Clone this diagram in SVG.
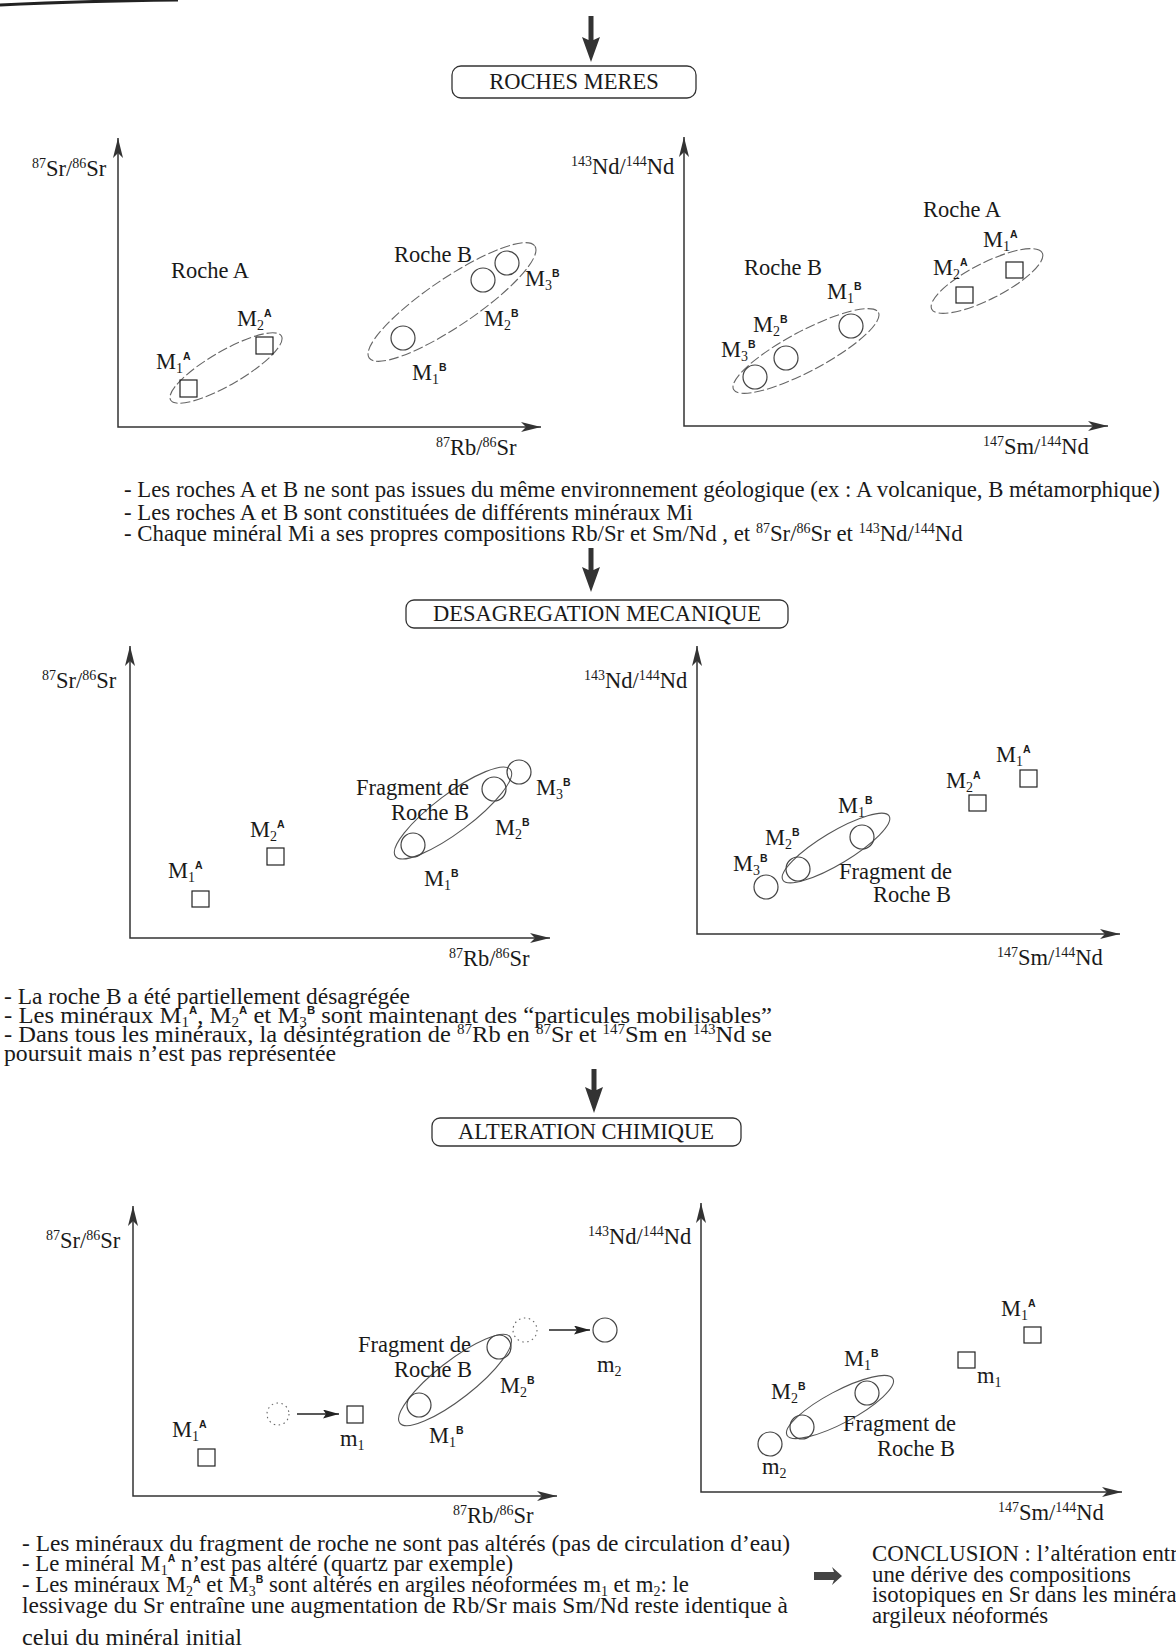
<svg xmlns="http://www.w3.org/2000/svg" width="1176" height="1648" viewBox="0 0 1176 1648">
<style>
.t{font-family:"Liberation Serif","Times New Roman",serif;font-size:22.5px;fill:#1a1a1a}
.b{font-family:"Liberation Serif","Times New Roman",serif;font-size:22.8px;fill:#1a1a1a}
.sm{font-size:14px}
.sA{font-family:"Liberation Sans",Arial,sans-serif;font-weight:bold;font-size:10.5px}
.ax{fill:none;stroke:#333;stroke-width:1.5}
.el{fill:none;stroke:#555;stroke-width:1.1}
.eld{fill:none;stroke:#666;stroke-width:1.1;stroke-dasharray:10 3}
.ci{fill:none;stroke:#444;stroke-width:1.2}
.cid{fill:none;stroke:#666;stroke-width:1.1;stroke-dasharray:1.5 3.5}
.sq{fill:none;stroke:#222;stroke-width:1.2}
.box{fill:#fff;stroke:#333;stroke-width:1.3}
.fa{fill:#333}
.ln{stroke:#222;stroke-width:1.5;fill:none}
</style>
<defs>
<marker id="ah" viewBox="0 0 20 10" refX="20" refY="5" markerWidth="20" markerHeight="10" markerUnits="userSpaceOnUse" orient="auto-start-reverse"><path d="M0,0 L20,5 L0,10 L5,5 z" fill="#333"/></marker>
<marker id="sa" viewBox="0 0 16 9" refX="16" refY="4.5" markerWidth="16" markerHeight="9" markerUnits="userSpaceOnUse" orient="auto"><path d="M0,0 L16,4.5 L0,9 L3,4.5 z" fill="#222"/></marker>
</defs>
<rect width="1176" height="1648" fill="#fff"/>
<path d="M0,5 Q80,1 178,0" stroke="#222" stroke-width="3" fill="none"/>

<g id="flow">
<polygon class="fa" points="588.5,16 593.5,16 593.5,40 600,37 591,62 582,37 588.5,40"/>
<polygon class="fa" points="588.5,548 593.5,548 593.5,570 600,567 591,592 582,567 588.5,570"/>
<polygon class="fa" points="591.5,1069 596.5,1069 596.5,1090 603,1087 594,1113 585,1087 591.5,1090"/>
<polygon fill="#444" points="814,1572 834,1572 832,1567 842,1576 832,1585 834,1580 814,1580"/>
</g>

<g id="step1">
<rect class="box" x="452" y="66" width="244" height="32" rx="9"/>
<text class="t" x="574" y="89" text-anchor="middle">ROCHES MERES</text>
</g>
<g id="step2">
<rect class="box" x="406" y="600" width="382" height="28" rx="8"/>
<text class="t" x="597" y="621" text-anchor="middle">DESAGREGATION MECANIQUE</text>
</g>
<g id="step3">
<rect class="box" x="432" y="1118" width="309" height="28" rx="8"/>
<text class="t" x="586" y="1139" text-anchor="middle">ALTERATION CHIMIQUE</text>
</g>

<!-- Plot 1 left -->
<g id="plot1-sr">
<path class="ax" d="M118,138 L118,427 L541,427" marker-start="url(#ah)" marker-end="url(#ah)"/>
<text class="t" x="32" y="176"><tspan class="sm" dy="-8">87</tspan><tspan dy="8">Sr/</tspan><tspan class="sm" dy="-8">86</tspan><tspan dy="8">Sr</tspan></text>
<text class="t" x="436" y="455"><tspan class="sm" dy="-8">87</tspan><tspan dy="8">Rb/</tspan><tspan class="sm" dy="-8">86</tspan><tspan dy="8">Sr</tspan></text>
<text class="t" x="171" y="278">Roche A</text>
<text class="t" x="394" y="262">Roche B</text>
<ellipse class="eld" cx="226" cy="368" rx="64" ry="17" transform="rotate(-30 226 368)"/>
<rect class="sq" x="180" y="380" width="17" height="17"/>
<rect class="sq" x="256" y="337" width="17" height="17"/>
<text class="t" x="156" y="369">M<tspan class="sm" dy="4">1</tspan><tspan class="sA" dy="-13">A</tspan></text>
<text class="t" x="237" y="326">M<tspan class="sm" dy="4">2</tspan><tspan class="sA" dy="-13">A</tspan></text>
<ellipse class="eld" cx="452" cy="302" rx="100" ry="24" transform="rotate(-34 452 302)"/>
<circle class="ci" cx="403" cy="338" r="12"/>
<circle class="ci" cx="483" cy="280" r="12"/>
<circle class="ci" cx="507" cy="263" r="12"/>
<text class="t" x="525" y="286">M<tspan class="sm" dy="4">3</tspan><tspan class="sA" dy="-13">B</tspan></text>
<text class="t" x="484" y="326">M<tspan class="sm" dy="4">2</tspan><tspan class="sA" dy="-13">B</tspan></text>
<text class="t" x="412" y="380">M<tspan class="sm" dy="4">1</tspan><tspan class="sA" dy="-13">B</tspan></text>
</g>

<!-- Plot 1 right -->
<g id="plot1-nd">
<path class="ax" d="M684,137 L684,426 L1108,426" marker-start="url(#ah)" marker-end="url(#ah)"/>
<text class="t" x="571" y="174"><tspan class="sm" dy="-8">143</tspan><tspan dy="8">Nd/</tspan><tspan class="sm" dy="-8">144</tspan><tspan dy="8">Nd</tspan></text>
<text class="t" x="983" y="454"><tspan class="sm" dy="-8">147</tspan><tspan dy="8">Sm/</tspan><tspan class="sm" dy="-8">144</tspan><tspan dy="8">Nd</tspan></text>
<text class="t" x="923" y="217">Roche A</text>
<ellipse class="eld" cx="987" cy="281" rx="62" ry="18" transform="rotate(-27 987 281)"/>
<rect class="sq" x="1006" y="262" width="17" height="16"/>
<rect class="sq" x="956" y="287" width="17" height="16"/>
<text class="t" x="983" y="247">M<tspan class="sm" dy="4">1</tspan><tspan class="sA" dy="-13">A</tspan></text>
<text class="t" x="933" y="275">M<tspan class="sm" dy="4">2</tspan><tspan class="sA" dy="-13">A</tspan></text>
<text class="t" x="744" y="275">Roche B</text>
<ellipse class="eld" cx="806" cy="351" rx="82" ry="20" transform="rotate(-28 806 351)"/>
<circle class="ci" cx="851" cy="326" r="12"/>
<circle class="ci" cx="786" cy="358" r="12"/>
<circle class="ci" cx="755" cy="377" r="12"/>
<text class="t" x="827" y="299">M<tspan class="sm" dy="4">1</tspan><tspan class="sA" dy="-13">B</tspan></text>
<text class="t" x="753" y="332">M<tspan class="sm" dy="4">2</tspan><tspan class="sA" dy="-13">B</tspan></text>
<text class="t" x="721" y="357">M<tspan class="sm" dy="4">3</tspan><tspan class="sA" dy="-13">B</tspan></text>
</g>

<g id="notes1">
<text class="b" x="124" y="497">- Les roches A et B ne sont pas issues du même environnement géologique (ex : A volcanique, B métamorphique)</text>
<text class="b" x="124" y="520">- Les roches A et B sont constituées de différents minéraux Mi</text>
<text class="b" x="124" y="541">- Chaque minéral Mi a ses propres compositions Rb/Sr et Sm/Nd , et <tspan class="sm" dy="-8">87</tspan><tspan dy="8">Sr/</tspan><tspan class="sm" dy="-8">86</tspan><tspan dy="8">Sr et </tspan><tspan class="sm" dy="-8">143</tspan><tspan dy="8">Nd/</tspan><tspan class="sm" dy="-8">144</tspan><tspan dy="8">Nd</tspan></text>
</g>

<!-- Plot 2 left -->
<g id="plot2-sr">
<path class="ax" d="M130,646 L130,938 L550,938" marker-start="url(#ah)" marker-end="url(#ah)"/>
<text class="t" x="42" y="688"><tspan class="sm" dy="-8">87</tspan><tspan dy="8">Sr/</tspan><tspan class="sm" dy="-8">86</tspan><tspan dy="8">Sr</tspan></text>
<text class="t" x="449" y="966"><tspan class="sm" dy="-8">87</tspan><tspan dy="8">Rb/</tspan><tspan class="sm" dy="-8">86</tspan><tspan dy="8">Sr</tspan></text>
<text class="t" x="168" y="878">M<tspan class="sm" dy="4">1</tspan><tspan class="sA" dy="-13">A</tspan></text>
<rect class="sq" x="192" y="891" width="17" height="16"/>
<text class="t" x="250" y="837">M<tspan class="sm" dy="4">2</tspan><tspan class="sA" dy="-13">A</tspan></text>
<rect class="sq" x="267" y="848" width="17" height="17"/>
<ellipse class="el" cx="453" cy="813" rx="72" ry="19" transform="rotate(-37 453 813)"/>
<circle class="ci" cx="413" cy="845" r="12"/>
<circle class="ci" cx="494" cy="789" r="12"/>
<circle class="ci" cx="519" cy="772" r="12"/>
<text class="t" x="356" y="795">Fragment de</text>
<text class="t" x="391" y="820">Roche B</text>
<text class="t" x="536" y="795">M<tspan class="sm" dy="4">3</tspan><tspan class="sA" dy="-13">B</tspan></text>
<text class="t" x="495" y="835">M<tspan class="sm" dy="4">2</tspan><tspan class="sA" dy="-13">B</tspan></text>
<text class="t" x="424" y="886">M<tspan class="sm" dy="4">1</tspan><tspan class="sA" dy="-13">B</tspan></text>
</g>

<!-- Plot 2 right -->
<g id="plot2-nd">
<path class="ax" d="M697,646 L697,934 L1120,934" marker-start="url(#ah)" marker-end="url(#ah)"/>
<text class="t" x="584" y="688"><tspan class="sm" dy="-8">143</tspan><tspan dy="8">Nd/</tspan><tspan class="sm" dy="-8">144</tspan><tspan dy="8">Nd</tspan></text>
<text class="t" x="997" y="965"><tspan class="sm" dy="-8">147</tspan><tspan dy="8">Sm/</tspan><tspan class="sm" dy="-8">144</tspan><tspan dy="8">Nd</tspan></text>
<text class="t" x="996" y="762">M<tspan class="sm" dy="4">1</tspan><tspan class="sA" dy="-13">A</tspan></text>
<rect class="sq" x="1020" y="770" width="17" height="17"/>
<text class="t" x="946" y="788">M<tspan class="sm" dy="4">2</tspan><tspan class="sA" dy="-13">A</tspan></text>
<rect class="sq" x="969" y="795" width="17" height="16"/>
<ellipse class="el" cx="836" cy="848" rx="62" ry="16" transform="rotate(-31 836 848)"/>
<circle class="ci" cx="862" cy="837" r="12"/>
<circle class="ci" cx="798" cy="869" r="12"/>
<circle class="ci" cx="766" cy="887" r="12"/>
<text class="t" x="838" y="813">M<tspan class="sm" dy="4">1</tspan><tspan class="sA" dy="-13">B</tspan></text>
<text class="t" x="765" y="845">M<tspan class="sm" dy="4">2</tspan><tspan class="sA" dy="-13">B</tspan></text>
<text class="t" x="733" y="871">M<tspan class="sm" dy="4">3</tspan><tspan class="sA" dy="-13">B</tspan></text>
<text class="t" x="839" y="879">Fragment de</text>
<text class="t" x="873" y="902">Roche B</text>
</g>

<g id="notes2">
<text class="b" x="4" y="1004" textLength="406" lengthAdjust="spacingAndGlyphs">- La roche B a été partiellement désagrégée</text>
<text class="b" x="4" y="1023" textLength="768" lengthAdjust="spacingAndGlyphs">- Les minéraux M<tspan class="sm" dy="4">1</tspan><tspan class="sA" dy="-13">A</tspan><tspan dy="9">, M</tspan><tspan class="sm" dy="4">2</tspan><tspan class="sA" dy="-13">A</tspan><tspan dy="9"> et M</tspan><tspan class="sm" dy="4">3</tspan><tspan class="sA" dy="-13">B</tspan><tspan dy="9"> sont maintenant  des “particules mobilisables”</tspan></text>
<text class="b" x="4" y="1042" textLength="768" lengthAdjust="spacingAndGlyphs">- Dans tous les minéraux, la désintégration de <tspan class="sm" dy="-8">87</tspan><tspan dy="8">Rb en </tspan><tspan class="sm" dy="-8">87</tspan><tspan dy="8">Sr et </tspan><tspan class="sm" dy="-8">147</tspan><tspan dy="8">Sm en </tspan><tspan class="sm" dy="-8">143</tspan><tspan dy="8">Nd se</tspan></text>
<text class="b" x="4" y="1061" textLength="332" lengthAdjust="spacingAndGlyphs">poursuit mais n’est pas représentée</text>
</g>

<!-- Plot 3 left -->
<g id="plot3-sr">
<path class="ax" d="M133,1206 L133,1496 L557,1496" marker-start="url(#ah)" marker-end="url(#ah)"/>
<text class="t" x="46" y="1248"><tspan class="sm" dy="-8">87</tspan><tspan dy="8">Sr/</tspan><tspan class="sm" dy="-8">86</tspan><tspan dy="8">Sr</tspan></text>
<text class="t" x="453" y="1523"><tspan class="sm" dy="-8">87</tspan><tspan dy="8">Rb/</tspan><tspan class="sm" dy="-8">86</tspan><tspan dy="8">Sr</tspan></text>
<text class="t" x="172" y="1437">M<tspan class="sm" dy="4">1</tspan><tspan class="sA" dy="-13">A</tspan></text>
<rect class="sq" x="198" y="1449" width="17" height="17"/>
<circle class="cid" cx="278" cy="1414" r="11"/>
<line class="ln" x1="297" y1="1414" x2="339" y2="1414" marker-end="url(#sa)"/>
<rect class="sq" x="347" y="1406" width="16" height="17"/>
<text class="t" x="340" y="1446">m<tspan class="sm" dy="4">1</tspan></text>
<ellipse class="el" cx="455" cy="1380" rx="70" ry="19" transform="rotate(-38 455 1380)"/>
<circle class="ci" cx="419" cy="1405" r="12"/>
<circle class="ci" cx="499" cy="1347" r="12"/>
<text class="t" x="358" y="1352">Fragment de</text>
<text class="t" x="394" y="1377">Roche B</text>
<text class="t" x="500" y="1393">M<tspan class="sm" dy="4">2</tspan><tspan class="sA" dy="-13">B</tspan></text>
<text class="t" x="429" y="1443">M<tspan class="sm" dy="4">1</tspan><tspan class="sA" dy="-13">B</tspan></text>
<circle class="cid" cx="525" cy="1330" r="12"/>
<line class="ln" x1="549" y1="1330" x2="590" y2="1330" marker-end="url(#sa)"/>
<circle class="ci" cx="605" cy="1330" r="12"/>
<text class="t" x="597" y="1372">m<tspan class="sm" dy="4">2</tspan></text>
</g>

<!-- Plot 3 right -->
<g id="plot3-nd">
<path class="ax" d="M701,1203 L701,1492 L1122,1492" marker-start="url(#ah)" marker-end="url(#ah)"/>
<text class="t" x="588" y="1244"><tspan class="sm" dy="-8">143</tspan><tspan dy="8">Nd/</tspan><tspan class="sm" dy="-8">144</tspan><tspan dy="8">Nd</tspan></text>
<text class="t" x="998" y="1520"><tspan class="sm" dy="-8">147</tspan><tspan dy="8">Sm/</tspan><tspan class="sm" dy="-8">144</tspan><tspan dy="8">Nd</tspan></text>
<text class="t" x="1001" y="1316">M<tspan class="sm" dy="4">1</tspan><tspan class="sA" dy="-13">A</tspan></text>
<rect class="sq" x="1024" y="1327" width="17" height="16"/>
<rect class="sq" x="958" y="1352" width="17" height="16"/>
<text class="t" x="977" y="1383">m<tspan class="sm" dy="4">1</tspan></text>
<ellipse class="el" cx="840" cy="1407" rx="60" ry="16" transform="rotate(-28 840 1407)"/>
<circle class="ci" cx="867" cy="1393" r="12"/>
<circle class="ci" cx="802" cy="1427" r="12"/>
<circle class="ci" cx="770" cy="1444" r="12"/>
<text class="t" x="844" y="1366">M<tspan class="sm" dy="4">1</tspan><tspan class="sA" dy="-13">B</tspan></text>
<text class="t" x="771" y="1399">M<tspan class="sm" dy="4">2</tspan><tspan class="sA" dy="-13">B</tspan></text>
<text class="t" x="762" y="1474">m<tspan class="sm" dy="4">2</tspan></text>
<text class="t" x="843" y="1431">Fragment de</text>
<text class="t" x="877" y="1456">Roche B</text>
</g>

<g id="notes3">
<text class="b" x="22" y="1551" textLength="768" lengthAdjust="spacingAndGlyphs">- Les minéraux du fragment de roche ne sont pas altérés (pas de circulation d’eau)</text>
<text class="b" x="22" y="1571">- Le minéral M<tspan class="sm" dy="4">1</tspan><tspan class="sA" dy="-13">A</tspan><tspan dy="9"> n’est pas altéré (quartz par exemple)</tspan></text>
<text class="b" x="22" y="1592">- Les minéraux M<tspan class="sm" dy="4">2</tspan><tspan class="sA" dy="-13">A</tspan><tspan dy="9"> et M</tspan><tspan class="sm" dy="4">3</tspan><tspan class="sA" dy="-13">B</tspan><tspan dy="9"> sont altérés en argiles néoformées m</tspan><tspan class="sm" dy="4">1</tspan><tspan dy="-4"> et m</tspan><tspan class="sm" dy="4">2</tspan><tspan dy="-4">: le</tspan></text>
<text class="b" x="22" y="1613" textLength="766" lengthAdjust="spacingAndGlyphs">lessivage du Sr entraîne une augmentation de Rb/Sr mais Sm/Nd  reste identique à</text>
<text class="b" x="22" y="1645" textLength="220" lengthAdjust="spacingAndGlyphs">celui du minéral initial</text>
</g>

<g id="conclusion">
<text class="b" x="872" y="1561">CONCLUSION : l’altération entr</text>
<text class="b" x="872" y="1582">une dérive des compositions</text>
<text class="b" x="872" y="1602">isotopiques en Sr dans les minéra</text>
<text class="b" x="872" y="1623">argileux néoformés</text>
</g>
</svg>
